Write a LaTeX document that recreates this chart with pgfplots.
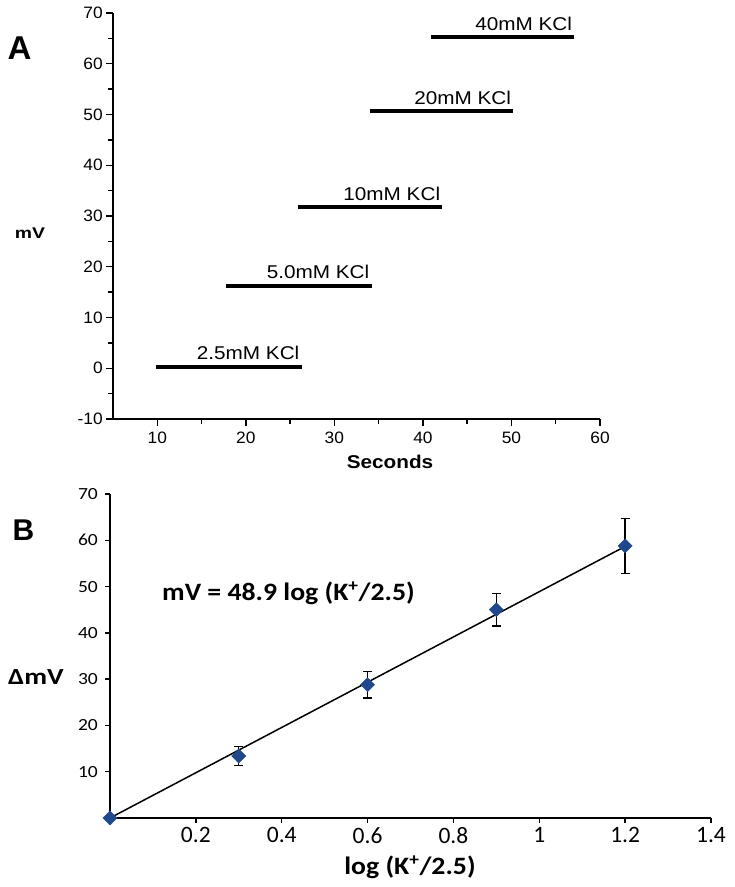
\documentclass[border=0pt]{standalone}
\usepackage{pgfplots}
\pgfplotsset{compat=1.18}
\usepackage{fontspec}
\setmainfont{Liberation Sans}
\newfontfamily\calfont{Carlito}
\definecolor{dblue}{RGB}{31,73,140}
\begin{document}
\begin{tikzpicture}[x=1pt,y=1pt]
\useasboundingbox (0,0) rectangle (735,887);
% ---------- Panel A ----------
\begin{axis}[
  at={(113pt,468pt)}, anchor=south west,
  scale only axis, width=487pt, height=406pt,
  xmin=5, xmax=60, ymin=-10, ymax=70,
  axis x line*=bottom, axis y line*=left,
  axis line style={line width=1.8pt},
  xtick={10,20,30,40,50,60}, xticklabels={10,20,30,40,50,60},
  ytick={-10,0,10,20,30,40,50,60,70}, yticklabels={-10,0,10,20,30,40,50,60,70},
  minor x tick num=1, minor y tick num=1,
  tick align=outside, major tick length=7pt, minor tick length=5pt,
  tick style={line width=1.4pt, black},
  tick label style={font=\fontsize{16.5}{18}\selectfont, xscale=1.05, inner sep=0pt},
  xticklabel style={yshift=-6pt},
  yticklabel style={xshift=-3pt},
  clip=false,
]
\addplot[line width=4pt, black] coordinates {(9.8,0.3) (26.3,0.3)}
  node[pos=1, anchor=south east, inner sep=0pt, yshift=5pt, font=\fontsize{18.5}{20}\selectfont, xscale=1.12] {2.5mM KCl};
\addplot[line width=4pt, black] coordinates {(17.8,16.2) (34.2,16.2)}
  node[pos=1, anchor=south east, inner sep=0pt, yshift=5pt, font=\fontsize{18.5}{20}\selectfont, xscale=1.12] {5.0mM KCl};
\addplot[line width=4pt, black] coordinates {(25.9,31.7) (42.2,31.7)}
  node[pos=1, anchor=south east, inner sep=0pt, yshift=5pt, font=\fontsize{18.5}{20}\selectfont, xscale=1.12] {10mM KCl};
\addplot[line width=4pt, black] coordinates {(34.0,50.6) (50.2,50.6)}
  node[pos=1, anchor=south east, inner sep=0pt, yshift=5pt, font=\fontsize{18.5}{20}\selectfont, xscale=1.12] {20mM KCl};
\addplot[line width=4pt, black] coordinates {(40.9,65.2) (57.1,65.2)}
  node[pos=1, anchor=south east, inner sep=0pt, yshift=5pt, font=\fontsize{18.5}{20}\selectfont, xscale=1.12] {40mM KCl};
\end{axis}
\node[inner sep=0pt, font=\fontsize{33}{35}\selectfont\bfseries] at (19.5,838.5) {A};
\node[inner sep=0pt, font=\fontsize{15.5}{17}\selectfont\bfseries, xscale=1.25] at (30,654) {mV};
\node[inner sep=0pt, font=\fontsize{18.5}{20}\selectfont\bfseries, xscale=1.12] at (390,425) {Seconds};
% ---------- Panel B ----------
\begin{axis}[
  at={(110pt,69pt)}, anchor=south west,
  scale only axis, width=601pt, height=324pt,
  xmin=0, xmax=1.4, ymin=0, ymax=70,
  axis x line*=bottom, axis y line*=left,
  axis line style={line width=1.8pt},
  xtick={0.2,0.4,0.6,0.8,1,1.2,1.4}, xticklabels={0.2,0.4,0.6,0.8,1,1.2,1.4},
  ytick={10,20,30,40,50,60,70}, yticklabels={10,20,30,40,50,60,70},
  tick align=outside, major tick length=5pt,
  tick style={line width=1.4pt, black},
  xticklabel style={font=\calfont\fontsize{23.5}{25}\selectfont, inner sep=0pt, yshift=-4pt},
  yticklabel style={font=\calfont\fontsize{17}{18}\selectfont, xscale=1.15, inner sep=0pt, xshift=-6pt},
  clip=false,
]
\addplot[black, line width=1.5pt] coordinates {(0,0) (1.2,58.68)};
\addplot[only marks, mark=square*, mark size=5pt, mark options={rotate=45, fill=dblue, draw=dblue},
  error bars/.cd, y dir=both, y explicit,
  error bar style={black, line width=1.3pt},
  error mark options={rotate=90, mark size=4.5pt, black, line width=1.3pt}]
  table[x=x, y=y, y error=e] {
x y e
0.3 13.4 2.0
0.6 28.8 2.9
0.9 45.0 3.5
1.2 58.8 5.9
};
\addplot[only marks, mark=square*, mark size=5pt, mark options={rotate=45, fill=dblue, draw=dblue}]
  coordinates {(0,0)};
\end{axis}
\node[inner sep=0pt, font=\fontsize{30}{32}\selectfont\bfseries] at (23.5,357) {B};
\node[inner sep=0pt, font=\calfont\fontsize{23}{25}\selectfont\bfseries, xscale=1.22] at (36,210) {ΔmV};
\node[inner sep=0pt, anchor=west, font=\calfont\fontsize{25}{27}\selectfont\bfseries, xscale=1.11] at (162,294) {mV = 48.9 log (K\textsuperscript{+}/2.5)};
\node[inner sep=0pt, font=\calfont\fontsize{25}{27}\selectfont\bfseries, xscale=1.11] at (410,20) {log (K\textsuperscript{+}/2.5)};
\end{tikzpicture}
\end{document}
